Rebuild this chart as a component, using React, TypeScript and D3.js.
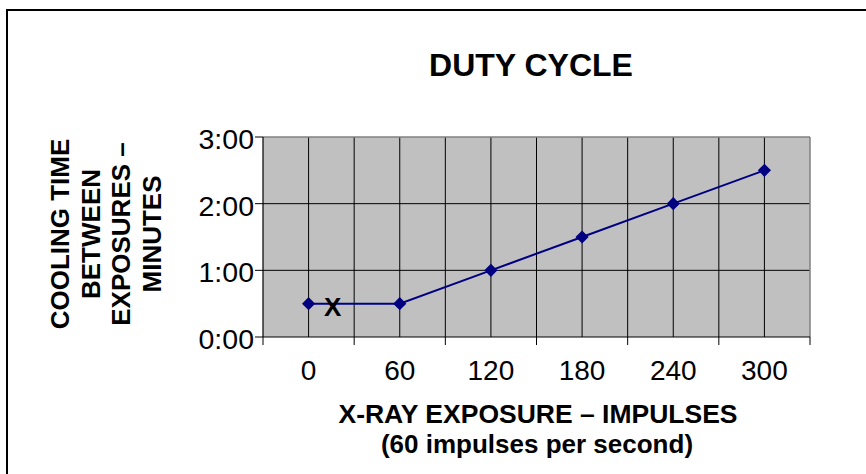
import React from "react";
import * as d3 from "d3";

const categories = ["0", "60", "120", "180", "240", "300"];
const coolingMinutes = [0.5, 0.5, 1, 1.5, 2, 2.5];
const yTickValues = [0, 1, 2, 3];
const yTickLabels = ["0:00", "1:00", "2:00", "3:00"];
const chartTitle = "DUTY CYCLE";
const yTitleLines = ["COOLING TIME", "BETWEEN", "EXPOSURES \u2013", "MINUTES"];
const xTitleLines = ["X-RAY EXPOSURE \u2013 IMPULSES", "(60 impulses per second)"];
const markLabel = "X";

const W = 866;
const H = 474;
const plot = { left: 263, right: 810, top: 137, bottom: 337 };
const FONT = "'Liberation Sans', Arial, sans-serif";
const NAVY = "#000080";

export default function App() {
  const x = d3
    .scaleBand<string>()
    .domain(categories)
    .range([plot.left, plot.right])
    .padding(0);
  const y = d3.scaleLinear().domain([0, 3]).range([plot.bottom, plot.top]);
  const bw = x.bandwidth();
  const cx = (c: string) => (x(c) as number) + bw / 2;

  const line = d3
    .line<number>()
    .x((_, i) => cx(categories[i]))
    .y((d) => y(d));

  const vGrid: number[] = [];
  categories.forEach((c) => {
    vGrid.push(x(c) as number);
    vGrid.push(cx(c));
  });

  const diamond = d3.symbol().type(d3.symbolDiamond2).size(110)();

  const yTitleCx = 106;
  const yTitleCy = (plot.top + plot.bottom) / 2 - 3;
  const lh = 30.5;

  return (
    <svg
      width={W}
      height={H}
      style={{ position: "absolute", left: 0, top: 0, background: "#fff" }}
      fontFamily={FONT}
    >
      <rect x={7} y={10} width={W + 20} height={H + 20} fill="none" stroke="#000" strokeWidth={2} />

      <text x={531} y={76} textAnchor="middle" fontWeight="bold" fontSize={32}>
        {chartTitle}
      </text>

      {/* plot area */}
      <rect
        x={plot.left}
        y={plot.top}
        width={plot.right - plot.left}
        height={plot.bottom - plot.top}
        fill="#C0C0C0"
      />
      {vGrid.slice(1).map((gx, i) => (
        <line key={"v" + i} x1={gx} x2={gx} y1={plot.top} y2={plot.bottom} stroke="#000" strokeWidth={1} />
      ))}
      {yTickValues.slice(1, -1).map((t) => (
        <line key={"h" + t} x1={plot.left} x2={plot.right} y1={y(t)} y2={y(t)} stroke="#000" strokeWidth={1} />
      ))}
      <line x1={plot.left} x2={plot.right} y1={plot.top} y2={plot.top} stroke="#808080" strokeWidth={1.5} />
      <line x1={plot.right} x2={plot.right} y1={plot.top} y2={plot.bottom} stroke="#808080" strokeWidth={1.5} />

      {/* axes */}
      <line x1={plot.left} x2={plot.left} y1={plot.top} y2={plot.bottom} stroke="#000" strokeWidth={1.2} />
      <line x1={plot.left} x2={plot.right} y1={plot.bottom} y2={plot.bottom} stroke="#000" strokeWidth={1.2} />
      {yTickValues.map((t, i) => (
        <g key={"yt" + t}>
          <line x1={plot.left - 8} x2={plot.left} y1={y(t)} y2={y(t)} stroke="#000" strokeWidth={1} />
          <text x={plot.left - 9} y={y(t) + 12} textAnchor="end" fontSize={28.5}>
            {yTickLabels[i]}
          </text>
        </g>
      ))}
      {categories.map((c) => (
        <line key={"xt" + c} x1={x(c) as number} x2={x(c) as number} y1={plot.bottom} y2={plot.bottom + 8} stroke="#000" strokeWidth={1} />
      ))}
      <line x1={plot.right} x2={plot.right} y1={plot.bottom} y2={plot.bottom + 8} stroke="#000" strokeWidth={1} />
      {categories.map((c) => (
        <text key={"xl" + c} x={cx(c)} y={380} textAnchor="middle" fontSize={28}>
          {c}
        </text>
      ))}

      {/* series */}
      <path d={line(coolingMinutes) || ""} fill="none" stroke={NAVY} strokeWidth={2} />
      {coolingMinutes.map((v, i) => (
        <path key={"m" + i} d={diamond || ""} transform={`translate(${cx(categories[i])},${y(v)})`} fill={NAVY} />
      ))}
      <text x={cx(categories[0]) + 24} y={y(coolingMinutes[0]) + 12} textAnchor="middle" fontWeight="bold" fontSize={26}>
        {markLabel}
      </text>

      {/* axis titles */}
      <text x={538} y={423} textAnchor="middle" fontWeight="bold" fontSize={26.5}>
        {xTitleLines[0]}
      </text>
      <text x={537} y={453} textAnchor="middle" fontWeight="bold" fontSize={26}>
        {xTitleLines[1]}
      </text>
      <g transform={`translate(${yTitleCx},${yTitleCy}) rotate(-90)`}>
        {yTitleLines.map((l, i) => (
          <text
            key={"yl" + i}
            x={0}
            y={(i - (yTitleLines.length - 1) / 2) * lh + 9}
            textAnchor="middle"
            fontWeight="bold"
            fontSize={26}
          >
            {l}
          </text>
        ))}
      </g>
    </svg>
  );
}
